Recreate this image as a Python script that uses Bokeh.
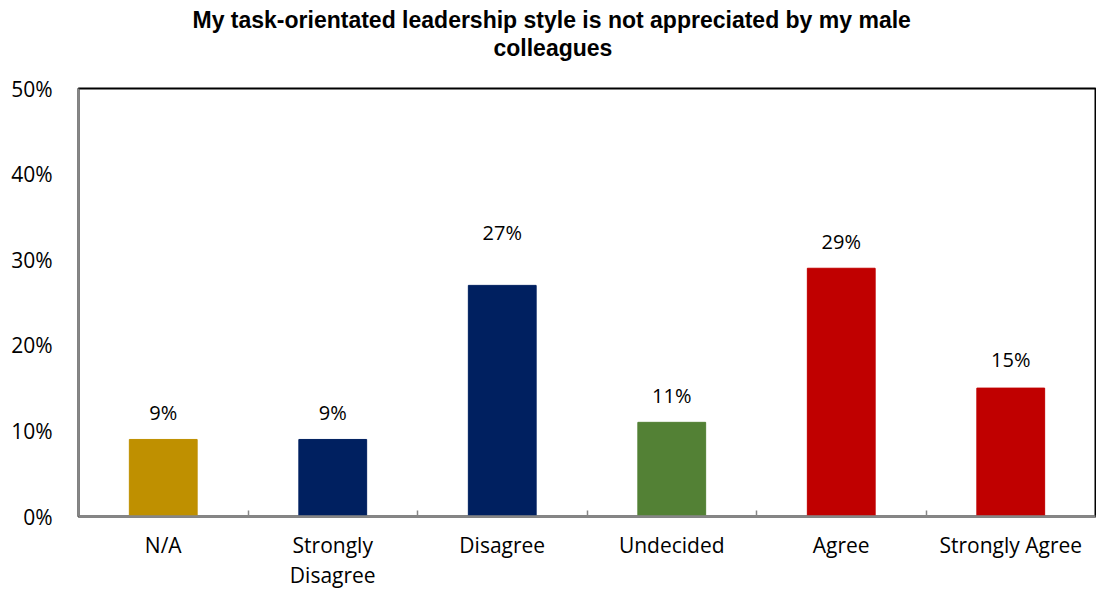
from bokeh.plotting import figure
from bokeh.models import (ColumnDataSource, Range1d, FixedTicker, NumeralTickFormatter,
                          LinearAxis, Title)
from bokeh.embed import file_html
from bokeh.resources import INLINE
from bokeh.core.properties import value

# ---- data ----
categories = ["N/A", "Strongly\nDisagree", "Disagree", "Undecided", "Agree", "Strongly Agree"]
shares = [0.09, 0.09, 0.27, 0.11, 0.29, 0.15]
bar_colors = ["#BF9000", "#002060", "#002060", "#538135", "#C00000", "#C00000"]
y_ticks = [0.0, 0.1, 0.2, 0.3, 0.4, 0.5]
title_line1 = "My task-orientated leadership style is not appreciated by my male"
title_line2 = "colleagues"

# label lift above bar in px (style)
label_lift = [-13, -13, -39, -13, -13, -15]

xs = [i + 0.5 for i in range(len(categories))]
labels = ["{:.0f}%".format(v * 100) for v in shares]

src = ColumnDataSource(dict(x=xs, top=shares, color=bar_colors, label=labels, lift=label_lift))

p = figure(width=1096, height=592, output_backend="svg", toolbar_location=None,
           x_range=Range1d(0, len(categories)), y_range=Range1d(0, 0.5),
           x_axis_type=None, y_axis_type=None,
           min_border_left=78, min_border_right=1, min_border_bottom=76, min_border_top=88)

p.title = None
t2 = Title(text=title_line2, align="left", offset=415, standoff=55,
           text_font="Liberation Sans", text_font_style="bold",
           text_font_size="23px", text_color="#000000")
t1 = Title(text=title_line1, align="left", offset=114, standoff=-54,
           text_font="Liberation Sans", text_font_style="bold",
           text_font_size="23px", text_color="#000000")
p.add_layout(t2, "above")
p.add_layout(t1, "above")

p.vbar(x="x", top="top", width=0.4, color="color", source=src)
p.text(x="x", y="top", text="label", source=src, y_offset="lift",
       text_align="center", text_baseline="bottom",
       text_font=value("Open Sans"), text_font_size="20px", text_color="#000000")

# y axis
yax = LinearAxis(ticker=FixedTicker(ticks=y_ticks), formatter=NumeralTickFormatter(format="0%"))
yax.major_tick_in = 0
yax.major_tick_out = 0
yax.minor_tick_in = 0
yax.minor_tick_out = 0
yax.axis_line_color = "#868686"
yax.axis_line_width = 2
yax.major_label_text_font = "Open Sans"
yax.major_label_text_font_size = "21px"
yax.major_label_text_color = "#000000"
yax.major_label_standoff = 26
p.add_layout(yax, "left")

# x axis
xax = LinearAxis(ticker=FixedTicker(ticks=xs, minor_ticks=[1, 2, 3, 4, 5]))
xax.major_label_overrides = {x: c for x, c in zip(xs, categories)}
xax.major_tick_in = 0
xax.major_tick_out = 0
xax.minor_tick_in = 6
xax.minor_tick_out = 0
xax.minor_tick_line_color = "#868686"
xax.minor_tick_line_width = 1.5
xax.axis_line_color = "#868686"
xax.axis_line_width = 2.5
xax.major_label_text_font = "Open Sans"
xax.major_label_text_font_size = "21px"
xax.major_label_text_color = "#000000"
xax.major_label_text_line_height = 1.1
xax.major_label_standoff = 14
p.add_layout(xax, "below")

p.xgrid.visible = False
p.ygrid.ticker = FixedTicker(ticks=y_ticks)
p.ygrid.grid_line_color = "#A0A0A0"
p.ygrid.grid_line_width = 1

p.outline_line_color = "#000000"
p.outline_line_width = 2
p.background_fill_color = "white"
p.border_fill_color = "white"

open("out.html", "w").write(file_html(p, INLINE))
